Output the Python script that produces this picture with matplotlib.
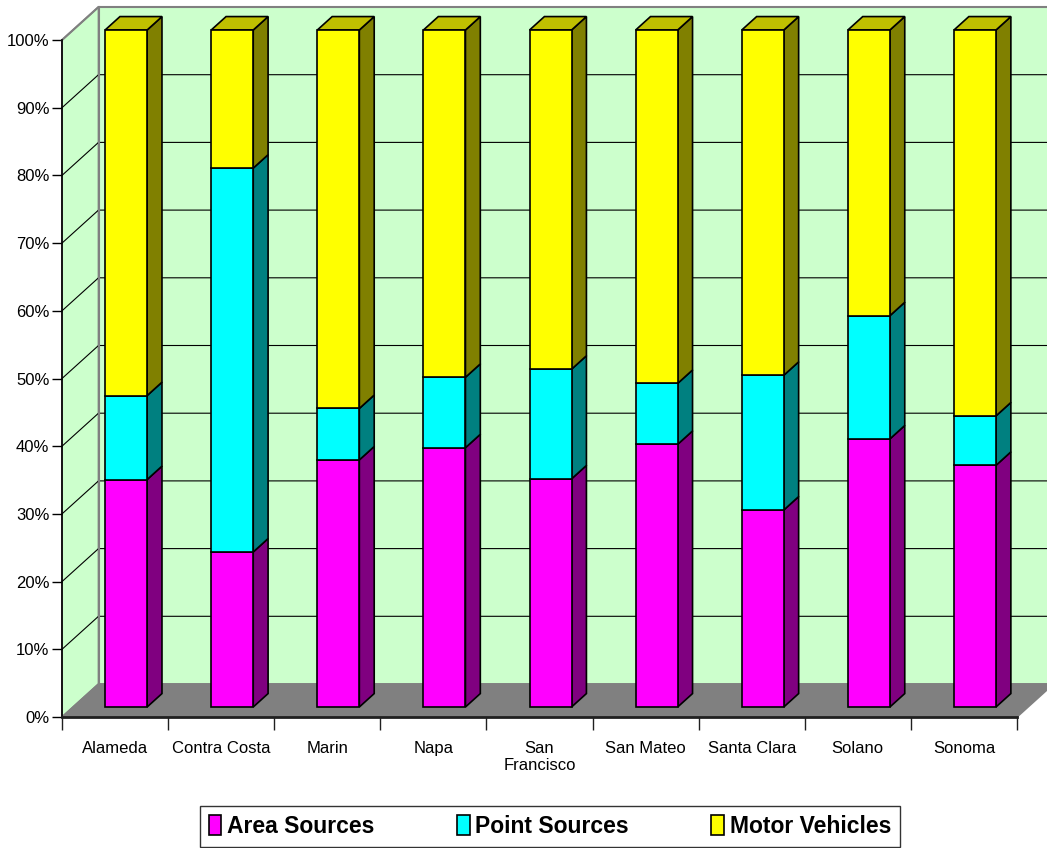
import numpy as np
import matplotlib.pyplot as plt
from matplotlib.patches import Polygon, Patch
from matplotlib.ticker import FuncFormatter

# ----------------------------------------------------------------------
# DATA (percent share of emissions by county)
# ----------------------------------------------------------------------
counties = ["Alameda", "Contra Costa", "Marin", "Napa", "San\nFrancisco",
            "San Mateo", "Santa Clara", "Solano", "Sonoma"]
area_sources = [33.6, 22.9, 36.5, 38.3, 33.7, 38.8, 29.1, 39.6, 35.7]
point_sources = [12.4, 56.7, 7.6, 10.4, 16.2, 9.0, 19.9, 18.2, 7.3]
motor_vehicles = [54.0, 20.4, 55.9, 51.3, 50.1, 52.2, 51.0, 42.2, 57.0]

series_names = ["Area Sources", "Point Sources", "Motor Vehicles"]
front_colors = ["#FF00FF", "#00FFFF", "#FFFF00"]
side_colors = ["#800080", "#008080", "#808000"]
top_color = "#C0C000"

WALL = "#CCFFCC"
FLOOR = "#808080"
EDGE_GRAY = "#808080"

# ----------------------------------------------------------------------
# 3D-ish projection (depth d in 0..1, front plane d=0)
# ----------------------------------------------------------------------
W_PX, H_PX = 1047, 848
AX_L, AX_R, AX_B, AX_T = 62, 1017, 717, 40
n = len(counties)
px_per_cat = (AX_R - AX_L) / n
px_per_pct = (AX_B - AX_T) / 100.0
DX = 36.5 / px_per_cat
DY = 33 / px_per_pct
D0, D1 = 0.303, 0.71
BAR_W = 0.396


def proj(x, y, d):
    return (x + d * DX, y + d * DY)


fig = plt.figure(figsize=(W_PX / 100, H_PX / 100), dpi=100)
ax = fig.add_axes([AX_L / W_PX, (H_PX - AX_B) / H_PX,
                   (AX_R - AX_L) / W_PX, (AX_B - AX_T) / H_PX])
ax.set_xlim(0, n)
ax.set_ylim(0, 100)
ax.patch.set_visible(False)

# walls & floor
left_wall = [proj(0, 0, 0), proj(0, 100, 0), proj(0, 100, 1), proj(0, 0, 1)]
back_wall = [proj(0, 0, 1), proj(n, 0, 1), proj(n, 100, 1), proj(0, 100, 1)]
floor = [proj(0, 0, 0), proj(n, 0, 0), proj(n, 0, 1), proj(0, 0, 1)]
for poly, fc in [(left_wall, WALL), (back_wall, WALL), (floor, FLOOR)]:
    ax.add_patch(Polygon(poly, closed=True, facecolor=fc, edgecolor=EDGE_GRAY,
                         linewidth=1.2, zorder=1, clip_on=False))

# gridlines
for g in range(10, 100, 10):
    xs, ys = zip(proj(0, g, 0), proj(0, g, 1), proj(n, g, 1))
    ax.plot(xs, ys, color="black", linewidth=0.8, zorder=2, clip_on=False)
for g in [100]:
    xs, ys = zip(proj(0, g, 0), proj(0, g, 1), proj(n, g, 1))
    ax.plot(xs, ys, color=EDGE_GRAY, linewidth=1.5, zorder=2, clip_on=False)
xs, ys = zip(proj(0, 0, 1), proj(0, 100, 1))
ax.plot(xs, ys, color=EDGE_GRAY, linewidth=1.5, zorder=2, clip_on=False)

# bars
data = np.array([area_sources, point_sources, motor_vehicles])
bottoms = np.vstack([np.zeros(n), np.cumsum(data, axis=0)[:-1]])
centers = np.arange(n) + 0.5
for s in range(3):
    fx, fy = proj(centers, bottoms[s], D0)
    ax.bar(fx, data[s], bottom=fy, width=BAR_W, color=front_colors[s],
           edgecolor="black", linewidth=1.2, zorder=4, clip_on=False,
           label=series_names[s])
    for i in range(n):
        x1 = centers[i] + BAR_W / 2
        lo, hi = bottoms[s][i], bottoms[s][i] + data[s][i]
        side = [proj(x1, lo, D0), proj(x1, hi, D0), proj(x1, hi, D1), proj(x1, lo, D1)]
        ax.add_patch(Polygon(side, closed=True, facecolor=side_colors[s],
                             edgecolor="black", linewidth=1.2, zorder=3, clip_on=False))
for i in range(n):
    x0, x1 = centers[i] - BAR_W / 2, centers[i] + BAR_W / 2
    top = bottoms[2][i] + data[2][i]
    tp = [proj(x0, top, D0), proj(x1, top, D0), proj(x1, top, D1), proj(x0, top, D1)]
    ax.add_patch(Polygon(tp, closed=True, facecolor=top_color,
                         edgecolor="black", linewidth=1.2, zorder=3, clip_on=False))

# axes
for sp in ["top", "right"]:
    ax.spines[sp].set_visible(False)
ax.spines["left"].set_color("black")
ax.spines["bottom"].set_color("#202020")
ax.spines["left"].set_linewidth(1.2)
ax.spines["bottom"].set_linewidth(2)
ax.spines["left"].set_zorder(5)
ax.spines["bottom"].set_zorder(5)

ax.set_yticks(range(0, 101, 10))
ax.yaxis.set_major_formatter(FuncFormatter(lambda v, p: f"{int(v)}%"))
ax.set_xticks(np.arange(n + 1))
ax.set_xticklabels([])
ax.set_xticks(centers, minor=True)
ax.set_xticklabels(counties, minor=True)
ax.tick_params(axis="y", direction="out", length=7, width=1, colors="black",
               labelsize=12, pad=2)
ax.tick_params(axis="x", which="major", direction="out", length=9, width=1,
               colors="#202020")
ax.tick_params(axis="x", which="minor", length=0, labelsize=12, pad=17)
for lab in ax.get_yticklabels() + ax.get_xticklabels(minor=True):
    lab.set_fontfamily("Liberation Sans")

handles = [Patch(facecolor=front_colors[s], edgecolor="black", linewidth=1.2,
                 label=series_names[s]) for s in range(3)]
leg = fig.legend(handles=handles, loc="center", bbox_to_anchor=(550 / W_PX, 1 - 826.5 / H_PX),
                 ncol=3, frameon=True, fancybox=False, edgecolor="black",
                 prop={"family": "Liberation Sans", "weight": "bold", "size": 16.5},
                 handlelength=0.55, handleheight=1.0, handletextpad=0.25,
                 columnspacing=3.6, borderpad=0.4, borderaxespad=0)
leg.get_frame().set_linewidth(1.0)

fig.savefig("out.png", dpi=100, facecolor="white")
